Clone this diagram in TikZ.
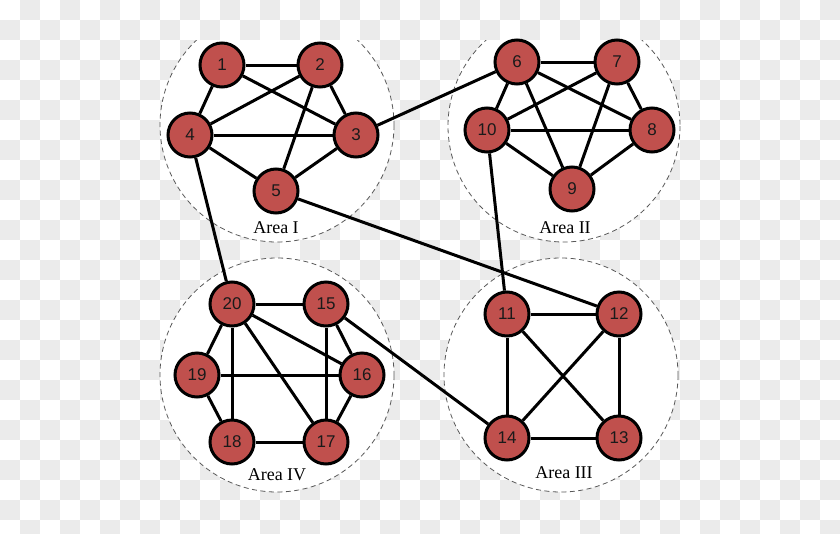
\documentclass[tikz,border=0pt]{standalone}
\usepackage{fontspec}
\setmainfont{Liberation Serif}
\newfontfamily\numfont{Liberation Sans}
\definecolor{nodered}{HTML}{C0504D}
\definecolor{checkgray}{HTML}{EBEBEB}
\definecolor{numtext}{HTML}{1A1A1A}
\begin{document}
\begin{tikzpicture}[x=1pt,y=-1pt,
  vnode/.style={circle,draw=black,line width=3pt,fill=nodered,minimum size=44pt,inner sep=0pt,text=numtext,font=\numfont\fontsize{17}{17}\selectfont},
  edge/.style={line width=3pt},
  area/.style={draw=black!65,dash pattern=on 5pt off 3.5pt,line width=0.8pt,fill=white},
  arealabel/.style={inner sep=0pt,font=\fontsize{18}{18}\selectfont}]
\useasboundingbox (0,0) rectangle (840,533);
\fill[white] (0,0) rectangle (840,533);
\foreach \i in {0,...,41}{\foreach \j in {0,...,26}{%
  \pgfmathtruncatemacro{\cpar}{mod(\i+\j,2)}%
  \ifnum\cpar=1 \fill[checkgray] (\i*20,\j*20) rectangle ++(20,20);\fi}}
\begin{scope}
  \clip (0,40) rectangle (840,533);
  \draw[area] (277,125) circle[radius=117];
  \draw[area] (564,126) circle[radius=116];
  \draw[area] (277,375) circle[radius=117];
  \draw[area] (561,375) circle[radius=117];
\end{scope}
\node[arealabel] (l1) at (276,228) {Area I};
\node[arealabel] (l2) at (565,228) {Area II};
\node[arealabel] (l3) at (564,473) {Area III};
\node[arealabel] (l4) at (277,475) {Area IV};
% nodes
\node[vnode] (n1) at (222,65) {1};
\node[vnode] (n2) at (320,65) {2};
\node[vnode] (n3) at (356,135) {3};
\node[vnode] (n4) at (190,135) {4};
\node[vnode] (n5) at (276,191) {5};
\node[vnode] (n6) at (517,62) {6};
\node[vnode] (n7) at (617,62) {7};
\node[vnode] (n8) at (652,130) {8};
\node[vnode] (n9) at (572,189) {9};
\node[vnode] (n10) at (487,130) {10};
\node[vnode] (n11) at (507,314) {11};
\node[vnode] (n12) at (619,314) {12};
\node[vnode] (n13) at (619,438) {13};
\node[vnode] (n14) at (507,438) {14};
\node[vnode] (n15) at (326,304) {15};
\node[vnode] (n16) at (362,375) {16};
\node[vnode] (n17) at (326,442) {17};
\node[vnode] (n18) at (232,442) {18};
\node[vnode] (n19) at (197,375) {19};
\node[vnode] (n20) at (232,304) {20};
% edges
\foreach \a/\b in {1/2,1/4,1/3,2/4,2/3,2/5,4/3,4/5,3/5,
  6/7,6/10,6/8,6/9,7/10,7/8,7/9,10/8,10/9,8/9,
  11/12,11/14,11/13,12/14,12/13,14/13,
  20/15,20/19,20/18,20/17,20/16,15/16,15/17,19/16,19/18,18/17,16/17,
  3/6,4/20,5/12,10/11,15/14}
  \draw[edge] (n\a) -- (n\b);
\end{tikzpicture}
\end{document}
